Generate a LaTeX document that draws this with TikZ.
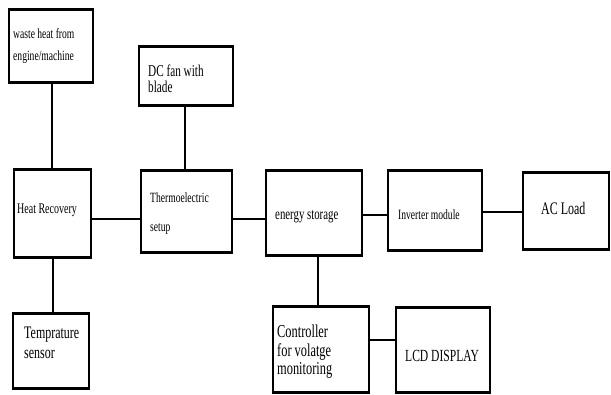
\documentclass[tikz,border=0pt]{standalone}
\usepackage{fontspec}
\setmainfont{Liberation Serif}
\newfontfamily\narrowfont[FakeStretch=0.68]{Liberation Serif}
\newcommand{\fs}[2]{\narrowfont\fontsize{#1}{#2}\selectfont}
\begin{document}
\begin{tikzpicture}[x=1pt,y=-1pt,
  box/.style={draw, line width=1.4pt, inner sep=0pt},
  link/.style={line width=1.8pt},
  lbl/.style={anchor=west, inner sep=0pt, align=left}]
\useasboundingbox (0,0) rectangle (611,394);
% boxes
\node[box, minimum width=84pt, minimum height=72pt] (src) at (51,46) {};
\node[box, minimum width=94pt, minimum height=58pt] (fan) at (186,76) {};
\node[box, minimum width=77pt, minimum height=87pt] (hr) at (52.5,213.5) {};
\node[box, minimum width=91pt, minimum height=81pt] (te) at (186.5,211.5) {};
\node[box, minimum width=96pt, minimum height=84pt] (es) at (314,213) {};
\node[box, minimum width=94pt, minimum height=79pt] (inv) at (435,210.5) {};
\node[box, minimum width=86pt, minimum height=76pt] (ac) at (566,211) {};
\node[box, minimum width=76pt, minimum height=74pt] (ts) at (51,351) {};
\node[box, minimum width=96pt, minimum height=84pt] (ctl) at (321,349.5) {};
\node[box, minimum width=94pt, minimum height=84pt] (lcd) at (443,350) {};
\foreach \n in {src,fan,hr,te,es,inv,ac,ts,ctl,lcd}
  \draw[line width=3pt] (\n.north west) -- (\n.north east) (\n.south west) -- (\n.south east);
% labels
\node[lbl, font=\fs{14.1}{22}] (srcT) at (13,46) {waste heat from\\engine/machine};
\node[lbl, font=\fs{16.5}{16.5}] (fanT) at (148,79) {DC fan with\\ blade};
\node[lbl, font=\fs{14.7}{15}] (hrT) at (17,210) {Heat Recovery};
\node[lbl, font=\fs{14.1}{29}] (teT) at (150,213.5) {Thermoelectric\\ setup};
\node[lbl, font=\fs{15.9}{16}] (esT) at (275,217) {energy storage};
\node[lbl, font=\fs{14.1}{15}] (invT) at (398,215) {Inverter module};
\node[lbl, font=\fs{17.6}{17}] (acT) at (541,208) {AC Load};
\node[lbl, font=\fs{17.6}{20}] (tsT) at (24,343) {Temprature\\sensor};
\node[lbl, font=\fs{18.2}{18.5}] (ctlT) at (277,352) {Controller\\for volatge\\monitoring};
\node[lbl, font=\fs{17}{17}] (lcdT) at (405,356) {LCD DISPLAY};
% connectors
\draw[link] (src.south -| 52,0) -- (hr.north -| 52,0);
\draw[link] (fan.south -| 185,0) -- (te.north -| 185,0);
\draw[link] (hr.east |- 0,219) -- (te.west |- 0,219);
\draw[link] (te.east |- 0,219) -- (es.west |- 0,219);
\draw[link] (es.east |- 0,215) -- (inv.west |- 0,215);
\draw[link] (inv.east |- 0,212) -- (ac.west |- 0,212);
\draw[link] (es.south -| 318,0) -- (ctl.north -| 318,0);
\draw[link] (hr.south -| 53,0) -- (ts.north -| 53,0);
\draw[link] (ctl.east |- 0,340) -- (lcd.west |- 0,340);
\end{tikzpicture}
\end{document}
